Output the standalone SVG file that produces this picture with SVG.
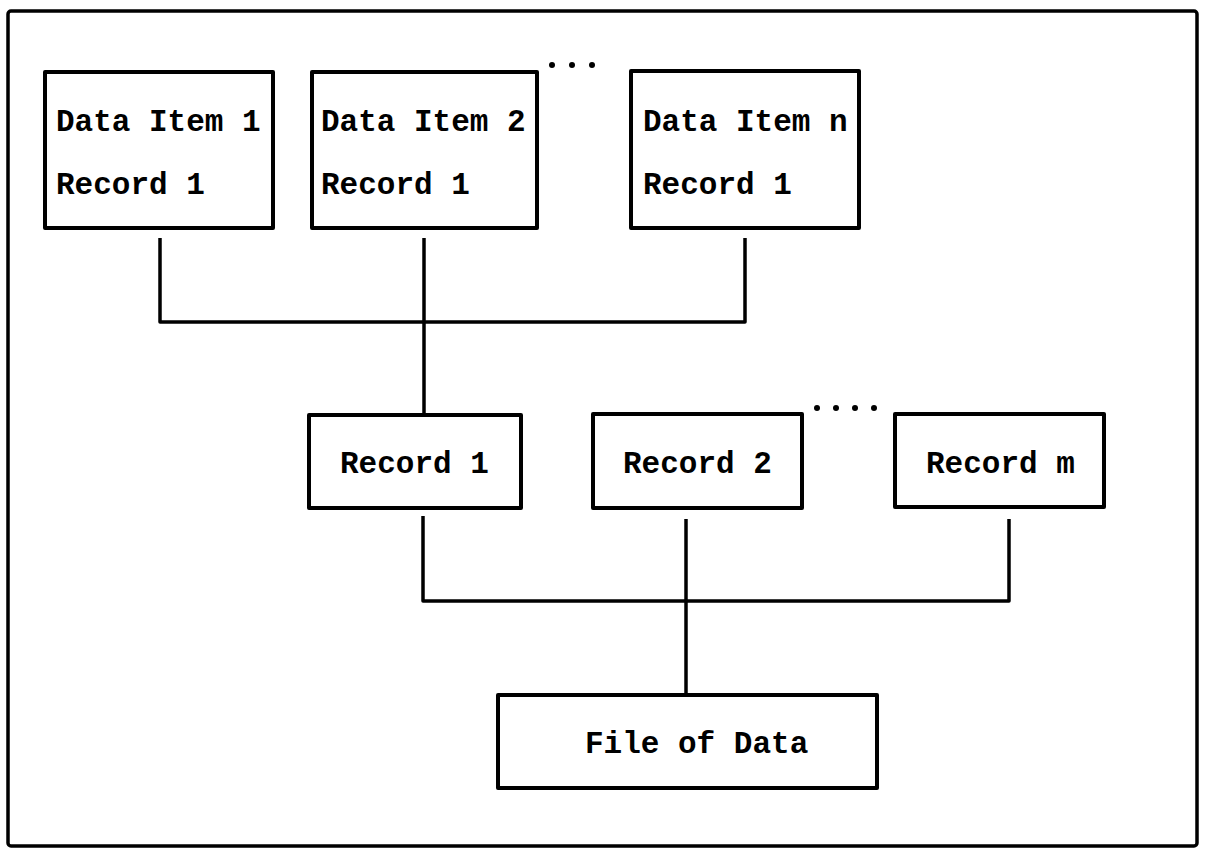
<svg xmlns="http://www.w3.org/2000/svg" width="1206" height="850" viewBox="0 0 1206 850">
<style>
.box{fill:#fff;stroke:#000;stroke-width:4;stroke-linejoin:round}
.frame{fill:none;stroke:#000;stroke-width:3.5}
.conn{fill:none;stroke:#000;stroke-width:3.5;stroke-linejoin:round}
.t{font-family:"Liberation Mono","Courier New",monospace;font-weight:bold;font-size:31px;fill:#000}
.dot{fill:#000}
</style>
<rect width="1206" height="850" fill="#fff"/>
<rect class="frame" x="8" y="11" width="1189" height="835" rx="3"/>
<g id="connectors">
<path class="conn" d="M160,238 V322 H745 V238"/>
<path class="conn" d="M424,238 V415"/>
<path class="conn" d="M423,516 V601 H1009 V519"/>
<path class="conn" d="M686,519 V695"/>
</g>
<g id="dots-top">
<circle class="dot" cx="552" cy="65" r="3"/>
<circle class="dot" cx="572" cy="65" r="3"/>
<circle class="dot" cx="592" cy="65" r="3"/>
</g>
<g id="dots-mid">
<circle class="dot" cx="817" cy="408" r="3"/>
<circle class="dot" cx="836" cy="408" r="3"/>
<circle class="dot" cx="855" cy="408" r="3"/>
<circle class="dot" cx="874" cy="408" r="3"/>
</g>
<g id="item1">
<rect class="box" x="45" y="72" width="228" height="156"/>
<text class="t" x="56" y="131">Data Item 1</text>
<text class="t" x="56" y="194">Record 1</text>
</g>
<g id="item2">
<rect class="box" x="312" y="72" width="225" height="156"/>
<text class="t" x="321" y="131">Data Item 2</text>
<text class="t" x="321" y="194">Record 1</text>
</g>
<g id="itemn">
<rect class="box" x="631" y="71" width="228" height="157"/>
<text class="t" x="643" y="131">Data Item n</text>
<text class="t" x="643" y="194">Record 1</text>
</g>
<g id="record1">
<rect class="box" x="309" y="415" width="212" height="93"/>
<text class="t" x="340" y="473">Record 1</text>
</g>
<g id="record2">
<rect class="box" x="593" y="414" width="209" height="94"/>
<text class="t" x="623" y="473">Record 2</text>
</g>
<g id="recordm">
<rect class="box" x="895" y="414" width="209" height="93"/>
<text class="t" x="926" y="473">Record m</text>
</g>
<g id="file">
<rect class="box" x="498" y="695" width="379" height="93"/>
<text class="t" x="585" y="753">File of Data</text>
</g>
</svg>
